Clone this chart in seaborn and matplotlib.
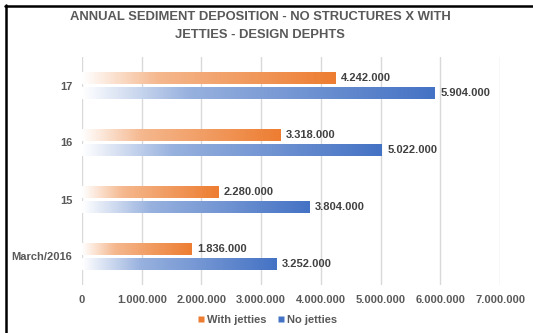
import numpy as np
import pandas as pd
import seaborn as sns
import matplotlib
matplotlib.use("Agg")
import matplotlib.pyplot as plt
from matplotlib.colors import LinearSegmentedColormap, to_rgb
from matplotlib.lines import Line2D
from matplotlib.ticker import FuncFormatter

categories = ["17", "16", "15", "March/2016"]
with_jetties = [4242000, 3318000, 2280000, 1836000]
no_jetties = [5904000, 5022000, 3804000, 3252000]
series_names = ["With jetties", "No jetties"]
series_colors = ["#ED7D31", "#4472C4"]

df = pd.DataFrame({
    "depth": categories * 2,
    "volume": with_jetties + no_jetties,
    "series": [series_names[0]] * 4 + [series_names[1]] * 4,
})

sns.set_theme(style="white")
plt.rcParams["font.family"] = ["Liberation Sans", "DejaVu Sans"]
text_gray = "#595959"
label_gray = "#404040"


def dotted(v):
    return f"{int(round(v)):,}".replace(",", ".")


fig = plt.figure(figsize=(5.33, 3.33), dpi=100)
ax = fig.add_axes([82 / 533, 1 - 285 / 333, (500 - 82) / 533, (285 - 57) / 333])

sns.barplot(data=df, x="volume", y="depth", hue="series", order=categories,
            hue_order=series_names, palette=series_colors, orient="h",
            width=0.52, gap=0.2, legend=False, ax=ax)

ax.set_xlim(0, 7000000)
ax.set_ylim(3.5, -0.5)

# Replace flat fills with a white-to-colour horizontal gradient per bar
grad = np.linspace(0, 1, 256).reshape(1, -1)
for container, color in zip(ax.containers, series_colors):
    rgb = np.array(to_rgb(color))
    light = 1 - (1 - rgb) * 0.55
    cmap = LinearSegmentedColormap.from_list(
        "grad", [(0, (1, 1, 1)), (0.3, light), (1, rgb)])
    for bar in container:
        x0, y0 = bar.get_x(), bar.get_y()
        w, h = bar.get_width(), bar.get_height()
        bar.set_facecolor("none")
        bar.set_edgecolor("none")
        im = ax.imshow(grad, cmap=cmap, aspect="auto",
                       extent=(x0, x0 + w, y0 + h, y0), zorder=2,
                       interpolation="bilinear")
        im.set_clip_path(bar)
        ax.text(x0 + w + 100000, y0 + h / 2, dotted(w),
                va="center", ha="left", fontsize=8, fontweight="bold",
                color=label_gray)

ax.set_xticks(np.arange(0, 7000001, 1000000))
ax.xaxis.set_major_formatter(FuncFormatter(lambda v, p: dotted(v)))
ax.grid(axis="x", color="#D9D9D9", linewidth=1)
ax.set_axisbelow(True)
for s in ax.spines.values():
    s.set_visible(False)
ax.tick_params(axis="both", length=0, labelsize=8, labelcolor=text_gray)
ax.tick_params(axis="x", pad=7)
ax.tick_params(axis="y", pad=7)
for lbl in ax.get_xticklabels() + ax.get_yticklabels():
    lbl.set_fontweight("bold")
ax.set_xlabel("")
ax.set_ylabel("")

fig.text(260 / 533, 1 - 26 / 333,
         "ANNUAL SEDIMENT DEPOSITION - NO STRUCTURES X WITH\nJETTIES - DESIGN DEPHTS",
         ha="center", va="center", fontsize=9.4, fontweight="bold",
         color=text_gray, linespacing=1.6)

handles = [Line2D([], [], marker="s", linestyle="none", markersize=5,
                  markerfacecolor=c, markeredgecolor="none") for c in series_colors]
fig.legend(handles, series_names, loc="center", bbox_to_anchor=(267 / 533, 1 - 320 / 333),
           ncol=2, frameon=False, handlelength=0.6, handletextpad=0.25,
           columnspacing=1.0, prop={"weight": "bold", "size": 8},
           labelcolor=text_gray)

# Frame lines along the top and left edge of the figure
fig.add_artist(Line2D([5.5 / 533, 5.5 / 533], [0, 1 - 5 / 333], color="black",
                      linewidth=1.8, transform=fig.transFigure))
fig.add_artist(Line2D([4.6 / 533, 1], [1 - 6 / 333, 1 - 6 / 333], color="black",
                      linewidth=1.8, transform=fig.transFigure))

fig.savefig("out.png", dpi=100)
